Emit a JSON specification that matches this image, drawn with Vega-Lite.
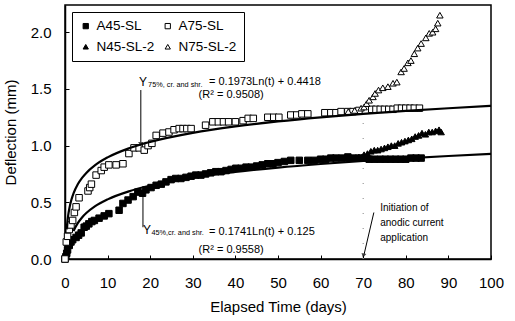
{
  "$schema": "https://vega.github.io/schema/vega-lite/v6.json",
  "width": 426,
  "height": 254,
  "autosize": "none",
  "padding": {"left": 65, "top": 5, "right": 24, "bottom": 62},
  "background": "white",
  "config": {
    "font": "Liberation Sans",
    "view": {"stroke": "black", "strokeWidth": 1.5},
    "axis": {"domainColor": "black", "tickColor": "black", "labelColor": "black", "titleColor": "black", "grid": false, "labelFont": "Liberation Sans", "titleFont": "Liberation Sans", "labelFontSize": 15, "titleFontSize": 15, "titleFontWeight": "normal", "domainWidth": 1.5}
  },
  "datasets": {
    "pts": [
      {"s": "A45-SL", "t": 0, "d": 0.0}, {"s": "A45-SL", "t": 0.2, "d": 0.02}, {"s": "A45-SL", "t": 0.4, "d": 0.05}, {"s": "A45-SL", "t": 0.6, "d": 0.08},
      {"s": "A45-SL", "t": 1.0, "d": 0.12}, {"s": "A45-SL", "t": 1.4, "d": 0.15}, {"s": "A45-SL", "t": 1.8, "d": 0.17}, {"s": "A45-SL", "t": 2.6, "d": 0.19},
      {"s": "A45-SL", "t": 3.2, "d": 0.21}, {"s": "A45-SL", "t": 3.8, "d": 0.23}, {"s": "A45-SL", "t": 4.5, "d": 0.28}, {"s": "A45-SL", "t": 5.0, "d": 0.29},
      {"s": "A45-SL", "t": 5.6, "d": 0.31}, {"s": "A45-SL", "t": 6.3, "d": 0.33}, {"s": "A45-SL", "t": 6.9, "d": 0.34}, {"s": "A45-SL", "t": 8.0, "d": 0.36},
      {"s": "A45-SL", "t": 9.2, "d": 0.38}, {"s": "A45-SL", "t": 10.3, "d": 0.4}, {"s": "A45-SL", "t": 12.7, "d": 0.43}, {"s": "A45-SL", "t": 13.6, "d": 0.49},
      {"s": "A45-SL", "t": 14.8, "d": 0.52}, {"s": "A45-SL", "t": 16.0, "d": 0.55}, {"s": "A45-SL", "t": 17.1, "d": 0.59}, {"s": "A45-SL", "t": 18.2, "d": 0.58},
      {"s": "A45-SL", "t": 19.0, "d": 0.61}, {"s": "A45-SL", "t": 20.2, "d": 0.63}, {"s": "A45-SL", "t": 21.4, "d": 0.65}, {"s": "A45-SL", "t": 22.6, "d": 0.66},
      {"s": "A45-SL", "t": 23.7, "d": 0.68}, {"s": "A45-SL", "t": 24.9, "d": 0.7}, {"s": "A45-SL", "t": 26.0, "d": 0.71}, {"s": "A45-SL", "t": 27.2, "d": 0.71},
      {"s": "A45-SL", "t": 28.4, "d": 0.72}, {"s": "A45-SL", "t": 29.6, "d": 0.73}, {"s": "A45-SL", "t": 30.7, "d": 0.74}, {"s": "A45-SL", "t": 31.9, "d": 0.74},
      {"s": "A45-SL", "t": 33.0, "d": 0.75}, {"s": "A45-SL", "t": 34.2, "d": 0.76}, {"s": "A45-SL", "t": 35.4, "d": 0.77}, {"s": "A45-SL", "t": 36.6, "d": 0.77},
      {"s": "A45-SL", "t": 37.8, "d": 0.78}, {"s": "A45-SL", "t": 39.0, "d": 0.79}, {"s": "A45-SL", "t": 40.1, "d": 0.8}, {"s": "A45-SL", "t": 41.3, "d": 0.8},
      {"s": "A45-SL", "t": 42.5, "d": 0.81}, {"s": "A45-SL", "t": 43.7, "d": 0.81}, {"s": "A45-SL", "t": 45.0, "d": 0.82}, {"s": "A45-SL", "t": 46.3, "d": 0.83},
      {"s": "A45-SL", "t": 47.6, "d": 0.84}, {"s": "A45-SL", "t": 48.8, "d": 0.84}, {"s": "A45-SL", "t": 50.0, "d": 0.85}, {"s": "A45-SL", "t": 51.5, "d": 0.86},
      {"s": "A45-SL", "t": 53.0, "d": 0.87}, {"s": "A45-SL", "t": 55.0, "d": 0.87}, {"s": "A45-SL", "t": 57.0, "d": 0.87}, {"s": "A45-SL", "t": 58.5, "d": 0.87},
      {"s": "A45-SL", "t": 60.0, "d": 0.88}, {"s": "A45-SL", "t": 61.2, "d": 0.88}, {"s": "A45-SL", "t": 62.4, "d": 0.89}, {"s": "A45-SL", "t": 63.6, "d": 0.89},
      {"s": "A45-SL", "t": 65.0, "d": 0.89}, {"s": "A45-SL", "t": 66.4, "d": 0.9}, {"s": "A45-SL", "t": 67.6, "d": 0.89}, {"s": "A45-SL", "t": 69.0, "d": 0.89},
      {"s": "A45-SL", "t": 70.2, "d": 0.89}, {"s": "A45-SL", "t": 71.4, "d": 0.88}, {"s": "A45-SL", "t": 72.6, "d": 0.88}, {"s": "A45-SL", "t": 74.0, "d": 0.88},
      {"s": "A45-SL", "t": 75.2, "d": 0.88}, {"s": "A45-SL", "t": 76.4, "d": 0.88}, {"s": "A45-SL", "t": 77.6, "d": 0.88}, {"s": "A45-SL", "t": 78.8, "d": 0.88},
      {"s": "A45-SL", "t": 80.0, "d": 0.88}, {"s": "A45-SL", "t": 81.2, "d": 0.89}, {"s": "A45-SL", "t": 82.4, "d": 0.89}, {"s": "A45-SL", "t": 83.6, "d": 0.89},

      {"s": "A75-SL", "t": 0, "d": 0.0}, {"s": "A75-SL", "t": 0.3, "d": 0.15}, {"s": "A75-SL", "t": 0.6, "d": 0.2}, {"s": "A75-SL", "t": 1.0, "d": 0.26},
      {"s": "A75-SL", "t": 1.4, "d": 0.3}, {"s": "A75-SL", "t": 1.8, "d": 0.34}, {"s": "A75-SL", "t": 2.2, "d": 0.41}, {"s": "A75-SL", "t": 2.6, "d": 0.46},
      {"s": "A75-SL", "t": 3.3, "d": 0.54}, {"s": "A75-SL", "t": 5.4, "d": 0.6}, {"s": "A75-SL", "t": 5.8, "d": 0.63}, {"s": "A75-SL", "t": 6.2, "d": 0.66},
      {"s": "A75-SL", "t": 7.3, "d": 0.74}, {"s": "A75-SL", "t": 8.5, "d": 0.78}, {"s": "A75-SL", "t": 9.2, "d": 0.81}, {"s": "A75-SL", "t": 10.3, "d": 0.83},
      {"s": "A75-SL", "t": 12.0, "d": 0.83}, {"s": "A75-SL", "t": 13.6, "d": 0.84}, {"s": "A75-SL", "t": 15.0, "d": 0.93}, {"s": "A75-SL", "t": 16.2, "d": 0.98},
      {"s": "A75-SL", "t": 17.4, "d": 0.98}, {"s": "A75-SL", "t": 18.6, "d": 0.96}, {"s": "A75-SL", "t": 19.5, "d": 1.0}, {"s": "A75-SL", "t": 20.4, "d": 1.02},
      {"s": "A75-SL", "t": 21.4, "d": 1.09}, {"s": "A75-SL", "t": 23.0, "d": 1.11}, {"s": "A75-SL", "t": 24.4, "d": 1.12}, {"s": "A75-SL", "t": 25.6, "d": 1.14},
      {"s": "A75-SL", "t": 26.8, "d": 1.15}, {"s": "A75-SL", "t": 27.7, "d": 1.15}, {"s": "A75-SL", "t": 28.6, "d": 1.15}, {"s": "A75-SL", "t": 29.6, "d": 1.15},
      {"s": "A75-SL", "t": 33.0, "d": 1.18}, {"s": "A75-SL", "t": 34.7, "d": 1.21}, {"s": "A75-SL", "t": 36.0, "d": 1.21}, {"s": "A75-SL", "t": 37.2, "d": 1.21},
      {"s": "A75-SL", "t": 38.4, "d": 1.21}, {"s": "A75-SL", "t": 40.0, "d": 1.21}, {"s": "A75-SL", "t": 41.8, "d": 1.22}, {"s": "A75-SL", "t": 43.0, "d": 1.24},
      {"s": "A75-SL", "t": 44.2, "d": 1.24}, {"s": "A75-SL", "t": 47.6, "d": 1.25}, {"s": "A75-SL", "t": 49.0, "d": 1.25}, {"s": "A75-SL", "t": 50.2, "d": 1.25},
      {"s": "A75-SL", "t": 53.0, "d": 1.27}, {"s": "A75-SL", "t": 54.4, "d": 1.27}, {"s": "A75-SL", "t": 55.6, "d": 1.28}, {"s": "A75-SL", "t": 57.0, "d": 1.28},
      {"s": "A75-SL", "t": 61.0, "d": 1.29}, {"s": "A75-SL", "t": 62.4, "d": 1.29}, {"s": "A75-SL", "t": 63.6, "d": 1.29}, {"s": "A75-SL", "t": 64.8, "d": 1.3},
      {"s": "A75-SL", "t": 66.4, "d": 1.3}, {"s": "A75-SL", "t": 67.6, "d": 1.3}, {"s": "A75-SL", "t": 69.0, "d": 1.31}, {"s": "A75-SL", "t": 72.0, "d": 1.32},
      {"s": "A75-SL", "t": 73.0, "d": 1.32}, {"s": "A75-SL", "t": 74.0, "d": 1.32}, {"s": "A75-SL", "t": 75.0, "d": 1.32}, {"s": "A75-SL", "t": 76.0, "d": 1.32},
      {"s": "A75-SL", "t": 77.0, "d": 1.32}, {"s": "A75-SL", "t": 78.0, "d": 1.33}, {"s": "A75-SL", "t": 79.0, "d": 1.33}, {"s": "A75-SL", "t": 80.0, "d": 1.33},
      {"s": "A75-SL", "t": 81.0, "d": 1.33}, {"s": "A75-SL", "t": 82.0, "d": 1.33}, {"s": "A75-SL", "t": 83.2, "d": 1.33},

      {"s": "N45-SL-2", "t": 66.0, "d": 0.89}, {"s": "N45-SL-2", "t": 67.5, "d": 0.89}, {"s": "N45-SL-2", "t": 69.0, "d": 0.9}, {"s": "N45-SL-2", "t": 70.2, "d": 0.92},
      {"s": "N45-SL-2", "t": 71.0, "d": 0.93}, {"s": "N45-SL-2", "t": 71.8, "d": 0.95}, {"s": "N45-SL-2", "t": 72.6, "d": 0.96}, {"s": "N45-SL-2", "t": 73.4, "d": 0.96},
      {"s": "N45-SL-2", "t": 74.2, "d": 0.97}, {"s": "N45-SL-2", "t": 75.0, "d": 0.98}, {"s": "N45-SL-2", "t": 75.8, "d": 0.99}, {"s": "N45-SL-2", "t": 76.6, "d": 1.0},
      {"s": "N45-SL-2", "t": 77.4, "d": 1.0}, {"s": "N45-SL-2", "t": 78.2, "d": 1.02}, {"s": "N45-SL-2", "t": 79.0, "d": 1.03}, {"s": "N45-SL-2", "t": 79.8, "d": 1.04},
      {"s": "N45-SL-2", "t": 80.6, "d": 1.05}, {"s": "N45-SL-2", "t": 81.4, "d": 1.06}, {"s": "N45-SL-2", "t": 82.2, "d": 1.08}, {"s": "N45-SL-2", "t": 83.0, "d": 1.09},
      {"s": "N45-SL-2", "t": 83.8, "d": 1.11}, {"s": "N45-SL-2", "t": 84.6, "d": 1.1}, {"s": "N45-SL-2", "t": 85.4, "d": 1.12}, {"s": "N45-SL-2", "t": 86.2, "d": 1.12},
      {"s": "N45-SL-2", "t": 87.0, "d": 1.13}, {"s": "N45-SL-2", "t": 87.8, "d": 1.14}, {"s": "N45-SL-2", "t": 88.3, "d": 1.12},

      {"s": "N75-SL-2", "t": 66.5, "d": 1.3}, {"s": "N75-SL-2", "t": 68.0, "d": 1.31}, {"s": "N75-SL-2", "t": 69.5, "d": 1.33}, {"s": "N75-SL-2", "t": 70.2, "d": 1.34},
      {"s": "N75-SL-2", "t": 70.8, "d": 1.37}, {"s": "N75-SL-2", "t": 71.4, "d": 1.4}, {"s": "N75-SL-2", "t": 72.3, "d": 1.43}, {"s": "N75-SL-2", "t": 72.8, "d": 1.46},
      {"s": "N75-SL-2", "t": 73.6, "d": 1.49}, {"s": "N75-SL-2", "t": 74.6, "d": 1.51}, {"s": "N75-SL-2", "t": 75.8, "d": 1.52}, {"s": "N75-SL-2", "t": 77.0, "d": 1.55},
      {"s": "N75-SL-2", "t": 77.9, "d": 1.56}, {"s": "N75-SL-2", "t": 78.9, "d": 1.65}, {"s": "N75-SL-2", "t": 79.6, "d": 1.68}, {"s": "N75-SL-2", "t": 80.5, "d": 1.73},
      {"s": "N75-SL-2", "t": 81.2, "d": 1.75}, {"s": "N75-SL-2", "t": 82.0, "d": 1.81}, {"s": "N75-SL-2", "t": 82.8, "d": 1.86}, {"s": "N75-SL-2", "t": 83.6, "d": 1.9},
      {"s": "N75-SL-2", "t": 84.7, "d": 1.95}, {"s": "N75-SL-2", "t": 85.5, "d": 1.99}, {"s": "N75-SL-2", "t": 86.3, "d": 2.0}, {"s": "N75-SL-2", "t": 87.0, "d": 2.03},
      {"s": "N75-SL-2", "t": 87.5, "d": 2.08}, {"s": "N75-SL-2", "t": 88.0, "d": 2.15}
    ],
    "fits": [
      {"c": "75", "t": 0.4, "d": 0.261}, {"c": "75", "t": 0.5, "d": 0.305}, {"c": "75", "t": 0.75, "d": 0.385}, {"c": "75", "t": 1, "d": 0.4418},
      {"c": "75", "t": 1.5, "d": 0.522}, {"c": "75", "t": 2, "d": 0.5786}, {"c": "75", "t": 3, "d": 0.6586}, {"c": "75", "t": 4, "d": 0.7153},
      {"c": "75", "t": 5, "d": 0.7593}, {"c": "75", "t": 7, "d": 0.8257}, {"c": "75", "t": 10, "d": 0.8961}, {"c": "75", "t": 15, "d": 0.9761},
      {"c": "75", "t": 20, "d": 1.0329}, {"c": "75", "t": 30, "d": 1.1129}, {"c": "75", "t": 40, "d": 1.1696}, {"c": "75", "t": 50, "d": 1.2137},
      {"c": "75", "t": 60, "d": 1.2496}, {"c": "75", "t": 70, "d": 1.28}, {"c": "75", "t": 80, "d": 1.3064}, {"c": "75", "t": 90, "d": 1.3296}, {"c": "75", "t": 100, "d": 1.3504},
      {"c": "45", "t": 2, "d": 0.2457}, {"c": "45", "t": 2.5, "d": 0.2845}, {"c": "45", "t": 3, "d": 0.3163}, {"c": "45", "t": 4, "d": 0.3664},
      {"c": "45", "t": 5, "d": 0.4052}, {"c": "45", "t": 7, "d": 0.4638}, {"c": "45", "t": 10, "d": 0.5259}, {"c": "45", "t": 15, "d": 0.5965},
      {"c": "45", "t": 20, "d": 0.6466}, {"c": "45", "t": 30, "d": 0.7172}, {"c": "45", "t": 40, "d": 0.7672}, {"c": "45", "t": 50, "d": 0.8061},
      {"c": "45", "t": 60, "d": 0.8378}, {"c": "45", "t": 70, "d": 0.8647}, {"c": "45", "t": 80, "d": 0.8879}, {"c": "45", "t": 90, "d": 0.9084}, {"c": "45", "t": 100, "d": 0.9268}
    ]
  },
  "layer": [
    {
      "data": {"values": [{"t": 70, "d": 0.0, "d2": 1.3}]},
      "mark": {"type": "rule", "color": "#999999", "strokeDash": [1, 14], "strokeWidth": 1.2},
      "encoding": {"x": {"field": "t", "type": "quantitative"}, "y": {"field": "d", "type": "quantitative"}, "y2": {"field": "d2"}}
    },
    {
      "data": {"name": "pts"},
      "mark": {"type": "point", "filled": false, "strokeWidth": 1, "size": 42, "opacity": 1},
      "encoding": {
        "x": {"field": "t", "type": "quantitative", "scale": {"domain": [0, 100], "nice": false},
          "axis": {"title": "Elapsed Time (days)", "values": [0,10,20,30,40,50,60,70,80,90,100], "tickSize": -4, "labelPadding": 20, "titlePadding": 9, "labelFlush": false}},
        "y": {"field": "d", "type": "quantitative", "scale": {"domain": [0, 2.24], "nice": false},
          "axis": {"title": "Deflection (mm)", "values": [0, 0.5, 1, 1.5, 2], "format": ".1f", "tickSize": -4, "labelPadding": 18, "titlePadding": 12, "labelFlush": false}},
        "shape": {"field": "s", "type": "nominal", "scale": {"domain": ["A45-SL", "A75-SL", "N45-SL-2", "N75-SL-2"], "range": ["square", "square", "triangle-up", "triangle-up"]},
          "legend": {"title": null, "orient": "top-left", "offset": 7, "columns": 2, "direction": "horizontal", "strokeColor": "black", "fillColor": "white", "padding": 7, "labelFont": "Liberation Sans", "labelFontSize": 13.5, "labelColor": "black", "symbolSize": 28, "symbolStrokeWidth": 1, "columnPadding": 6, "rowPadding": 6, "labelOffset": 4}},
        "fill": {"field": "s", "type": "nominal", "scale": {"domain": ["A45-SL", "A75-SL", "N45-SL-2", "N75-SL-2"], "range": ["black", "white", "black", "white"]}},
        "stroke": {"field": "s", "type": "nominal", "scale": {"domain": ["A45-SL", "A75-SL", "N45-SL-2", "N75-SL-2"], "range": ["black", "black", "black", "black"]}}
      }
    },
    {
      "data": {"name": "fits"},
      "mark": {"type": "line", "color": "black", "strokeWidth": 2.2, "interpolate": "monotone"},
      "encoding": {"x": {"field": "t", "type": "quantitative"}, "y": {"field": "d", "type": "quantitative"}, "detail": {"field": "c"}}
    },
    {
      "data": {"values": [{"t": 17.8, "d": 1.49, "t2": 17.8, "d2": 1.03}, {"t": 18.3, "d": 0.28, "t2": 18.3, "d2": 0.58}, {"t": 72.5, "d": 0.41, "t2": 70.2, "d2": 0.04}]},
      "mark": {"type": "rule", "color": "black", "strokeWidth": 1},
      "encoding": {"x": {"field": "t", "type": "quantitative"}, "x2": {"field": "t2"}, "y": {"field": "d", "type": "quantitative"}, "y2": {"field": "d2"}}
    },
    {
      "data": {"values": [{"t": 17.8, "d": 1.01}]},
      "mark": {"type": "point", "shape": "triangle-down", "filled": true, "color": "black", "size": 30},
      "encoding": {"x": {"field": "t", "type": "quantitative"}, "y": {"field": "d", "type": "quantitative"}}
    },
    {
      "data": {"values": [{"t": 18.3, "d": 0.6}]},
      "mark": {"type": "point", "shape": "triangle-up", "filled": true, "color": "black", "size": 30},
      "encoding": {"x": {"field": "t", "type": "quantitative"}, "y": {"field": "d", "type": "quantitative"}}
    },
    {
      "data": {"values": [{"t": 70.05, "d": 0.03}]},
      "mark": {"type": "point", "shape": "triangle-down", "filled": true, "color": "black", "size": 25, "angle": 14},
      "encoding": {"x": {"field": "t", "type": "quantitative"}, "y": {"field": "d", "type": "quantitative"}}
    },
    {
      "data": {"values": [{"t": 17.4, "d": 1.56, "txt": "Y"}, {"t": 18.3, "d": 0.255, "txt": "Y"}]},
      "mark": {"type": "text", "align": "left", "baseline": "middle", "fontSize": 12, "color": "black"},
      "encoding": {"x": {"field": "t", "type": "quantitative"}, "y": {"field": "d", "type": "quantitative"}, "text": {"field": "txt"}}
    },
    {
      "data": {"values": [{"t": 19.5, "d": 1.535, "txt": "75%, cr. and shr."}, {"t": 20.3, "d": 0.23, "txt": "45%,cr. and shr."}]},
      "mark": {"type": "text", "align": "left", "baseline": "middle", "fontSize": 7.3, "color": "black"},
      "encoding": {"x": {"field": "t", "type": "quantitative"}, "y": {"field": "d", "type": "quantitative"}, "text": {"field": "txt"}}
    },
    {
      "data": {"values": [{"t": 33.8, "d": 1.56, "txt": "= 0.1973Ln(t) + 0.4418"}, {"t": 33.8, "d": 0.24, "txt": "= 0.1741Ln(t) + 0.125"}]},
      "mark": {"type": "text", "align": "left", "baseline": "middle", "fontSize": 11, "color": "black"},
      "encoding": {"x": {"field": "t", "type": "quantitative"}, "y": {"field": "d", "type": "quantitative"}, "text": {"field": "txt"}}
    },
    {
      "data": {"values": [{"t": 39, "d": 1.445, "txt": "(R² = 0.9508)"}, {"t": 39, "d": 0.08, "txt": "(R² = 0.9558)"}]},
      "mark": {"type": "text", "align": "center", "baseline": "middle", "fontSize": 11, "color": "black"},
      "encoding": {"x": {"field": "t", "type": "quantitative"}, "y": {"field": "d", "type": "quantitative"}, "text": {"field": "txt"}}
    },
    {
      "data": {"values": [{"t": 74, "d": 0.45, "txt": "Initiation of"}, {"t": 74, "d": 0.32, "txt": "anodic current"}, {"t": 74, "d": 0.185, "txt": "application"}]},
      "mark": {"type": "text", "align": "left", "baseline": "middle", "fontSize": 10, "color": "black"},
      "encoding": {"x": {"field": "t", "type": "quantitative"}, "y": {"field": "d", "type": "quantitative"}, "text": {"field": "txt"}}
    }
  ]
}
